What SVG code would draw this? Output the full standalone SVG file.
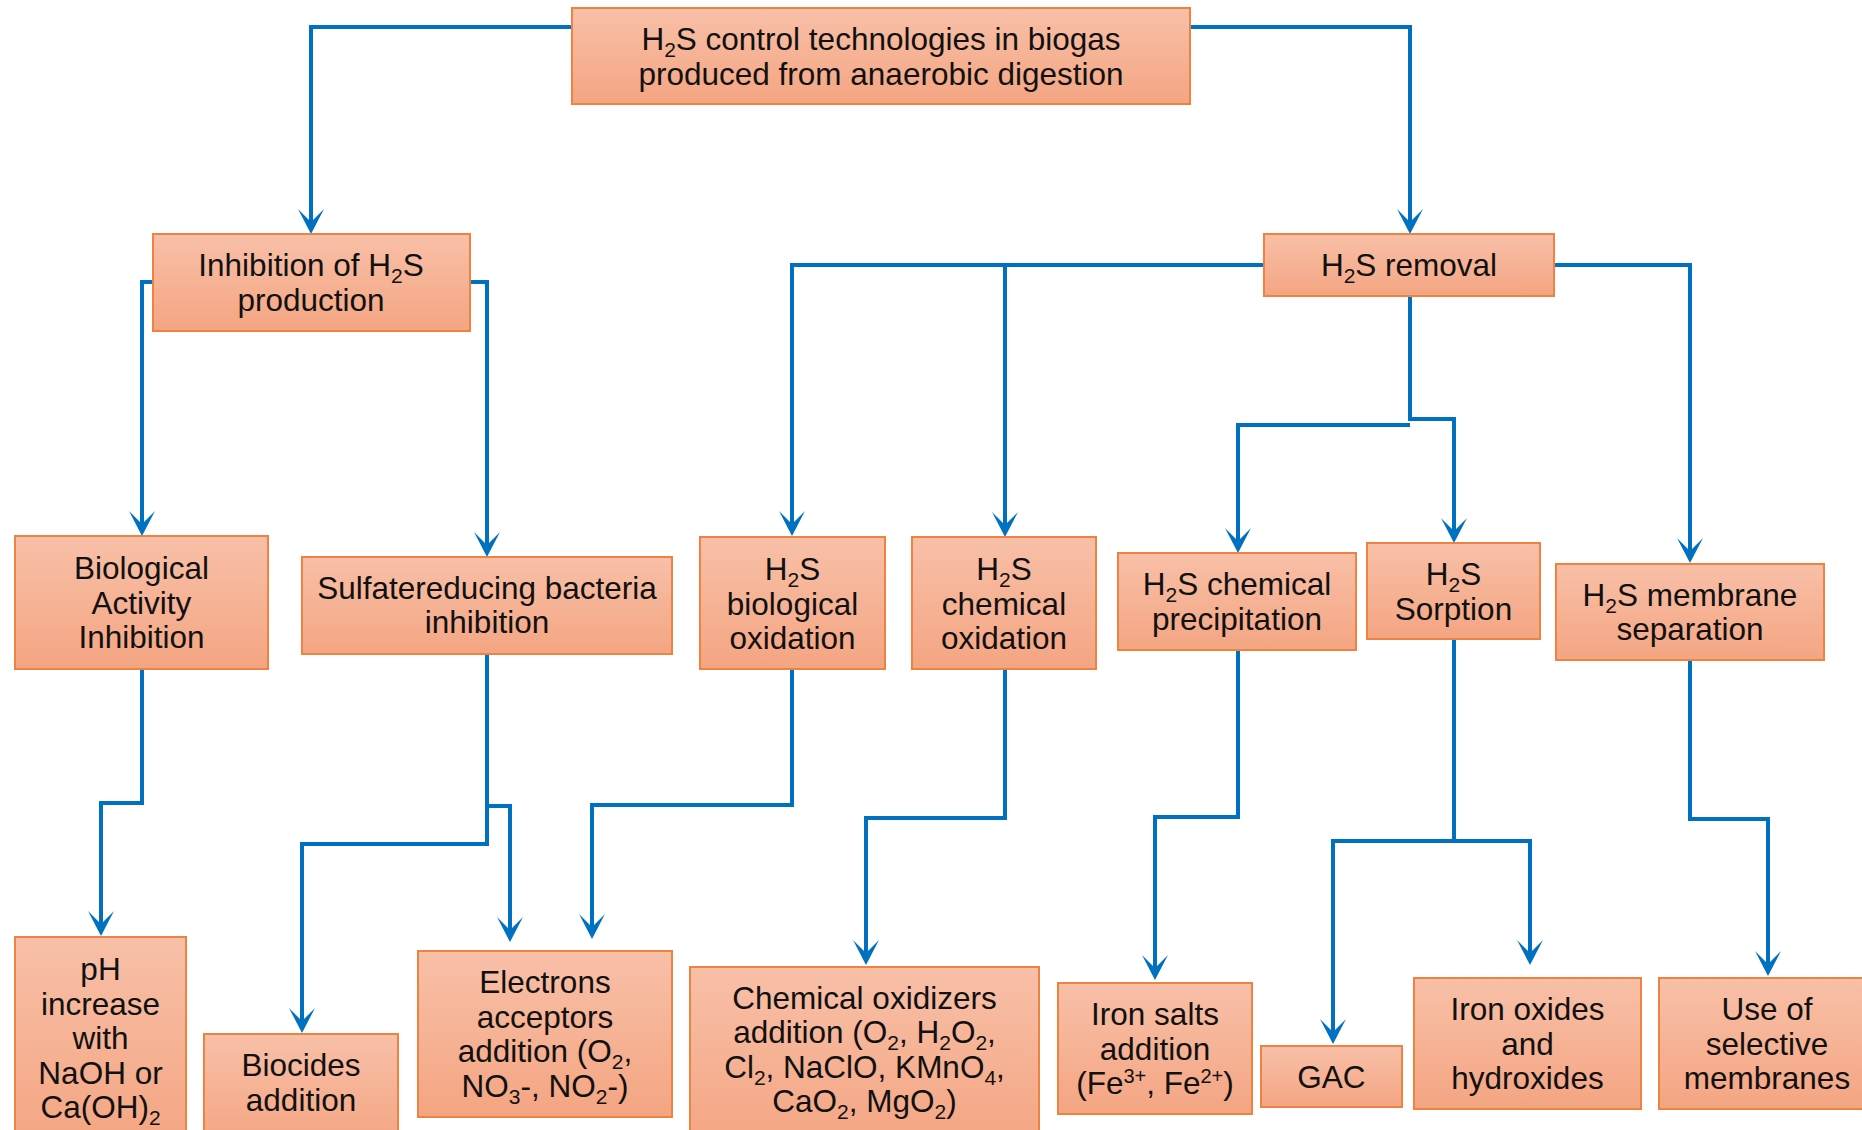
<svg xmlns="http://www.w3.org/2000/svg" width="1862" height="1130" viewBox="0 0 1862 1130">
<style>
.box{fill:url(#g);stroke:#EE8240;stroke-width:2}
.t{font-family:"Liberation Sans",Arial,sans-serif;font-size:31.5px;fill:#111;text-anchor:middle}
.c{fill:none;stroke:#0070C0;stroke-width:4;marker-end:url(#arr)}
</style>
<defs>
<linearGradient id="g" x1="0" y1="0" x2="0" y2="1">
<stop offset="0" stop-color="#F8C0A8"/>
<stop offset="1" stop-color="#F4A582"/>
</linearGradient>
<marker id="arr" markerUnits="userSpaceOnUse" viewBox="-16 -14 28 28" markerWidth="28" markerHeight="28" refX="0" refY="0" orient="auto">
<path d="M10,0 L-15,-13 L-2,0 L-15,13 Z" fill="#0070C0"/>
</marker>
</defs>
<g id="connectors">
<path class="c" d="M572,27 H311 V224"/>
<path class="c" d="M1190,27 H1410 V224"/>
<path class="c" d="M153,282 H142 V526"/>
<path class="c" d="M470,282 H487 V547"/>
<path class="c" d="M1264,265 H792 V526"/>
<path class="c" d="M1005,265 V527"/>
<path class="c" d="M1554,265 H1690 V553"/>
<path class="c" d="M1410,296 V419 H1454 V533"/>
<path class="c" d="M1410,425 H1238 V543"/>
<path class="c" d="M142,669 V803 H101 V926"/>
<path class="c" d="M487,654 V844 H302 V1023"/>
<path class="c" d="M487,806 H510 V932"/>
<path class="c" d="M792,669 V805 H592 V929"/>
<path class="c" d="M1005,669 V818 H866 V955"/>
<path class="c" d="M1238,650 V817 H1155 V970"/>
<path class="c" d="M1454,639 V841 H1333 V1034"/>
<path class="c" d="M1454,841 H1530 V955"/>
<path class="c" d="M1690,660 V819 H1768 V966"/>
</g>
<g id="root">
<rect class="box" x="572" y="8" width="618" height="96"/>
<text class="t" x="881" y="50">H<tspan dy="7" font-size="21">2</tspan><tspan dy="-7">S control technologies in biogas</tspan></text>
<text class="t" x="881" y="85">produced from anaerobic digestion</text>
</g>
<g id="inhibition">
<rect class="box" x="153" y="234" width="317" height="97"/>
<text class="t" x="311" y="276">Inhibition of H<tspan dy="7" font-size="21">2</tspan><tspan dy="-7">S</tspan></text>
<text class="t" x="311" y="311">production</text>
</g>
<g id="removal">
<rect class="box" x="1264" y="234" width="290" height="62"/>
<text class="t" x="1409" y="276">H<tspan dy="7" font-size="21">2</tspan><tspan dy="-7">S removal</tspan></text>
</g>
<g id="biological">
<rect class="box" x="15" y="536" width="253" height="133"/>
<text class="t" x="141.5" y="579">Biological</text>
<text class="t" x="141.5" y="613.5">Activity</text>
<text class="t" x="141.5" y="648">Inhibition</text>
</g>
<g id="sulfate">
<rect class="box" x="302" y="557" width="370" height="97"/>
<text class="t" x="487" y="599">Sulfatereducing bacteria</text>
<text class="t" x="487" y="633">inhibition</text>
</g>
<g id="bioox">
<rect class="box" x="700" y="537" width="185" height="132"/>
<text class="t" x="792.5" y="580">H<tspan dy="7" font-size="21">2</tspan><tspan dy="-7">S</tspan></text>
<text class="t" x="792.5" y="614.5">biological</text>
<text class="t" x="792.5" y="649">oxidation</text>
</g>
<g id="chemox">
<rect class="box" x="912" y="537" width="184" height="132"/>
<text class="t" x="1004" y="580">H<tspan dy="7" font-size="21">2</tspan><tspan dy="-7">S</tspan></text>
<text class="t" x="1004" y="614.5">chemical</text>
<text class="t" x="1004" y="649">oxidation</text>
</g>
<g id="precip">
<rect class="box" x="1118" y="553" width="238" height="97"/>
<text class="t" x="1237" y="595">H<tspan dy="7" font-size="21">2</tspan><tspan dy="-7">S chemical</tspan></text>
<text class="t" x="1237" y="630">precipitation</text>
</g>
<g id="sorption">
<rect class="box" x="1367" y="543" width="173" height="96"/>
<text class="t" x="1453.5" y="585">H<tspan dy="7" font-size="21">2</tspan><tspan dy="-7">S</tspan></text>
<text class="t" x="1453.5" y="619.5">Sorption</text>
</g>
<g id="membrane">
<rect class="box" x="1556" y="564" width="268" height="96"/>
<text class="t" x="1690" y="606">H<tspan dy="7" font-size="21">2</tspan><tspan dy="-7">S membrane</tspan></text>
<text class="t" x="1690" y="640">separation</text>
</g>
<g id="ph">
<rect class="box" x="15" y="937" width="171" height="210"/>
<text class="t" x="100.5" y="980">pH</text>
<text class="t" x="100.5" y="1014.5">increase</text>
<text class="t" x="100.5" y="1049">with</text>
<text class="t" x="100.5" y="1083.5">NaOH or</text>
<text class="t" x="100.5" y="1118">Ca(OH)<tspan dy="7" font-size="21">2</tspan></text>
</g>
<g id="biocides">
<rect class="box" x="204" y="1034" width="194" height="110"/>
<text class="t" x="301" y="1076">Biocides</text>
<text class="t" x="301" y="1111">addition</text>
</g>
<g id="electrons">
<rect class="box" x="418" y="951" width="254" height="166"/>
<text class="t" x="545" y="993">Electrons</text>
<text class="t" x="545" y="1027.5">acceptors</text>
<text class="t" x="545" y="1062">addition (O<tspan dy="7" font-size="21">2</tspan><tspan dy="-7">,</tspan></text>
<text class="t" x="545" y="1096.5">NO<tspan dy="7" font-size="21">3</tspan><tspan dy="-7">-, NO</tspan><tspan dy="7" font-size="21">2</tspan><tspan dy="-7">-)</tspan></text>
</g>
<g id="oxidizers">
<rect class="box" x="690" y="967" width="349" height="180"/>
<text class="t" x="864.5" y="1008.5">Chemical oxidizers</text>
<text class="t" x="864.5" y="1043">addition (O<tspan dy="7" font-size="21">2</tspan><tspan dy="-7">, H</tspan><tspan dy="7" font-size="21">2</tspan><tspan dy="-7">O</tspan><tspan dy="7" font-size="21">2</tspan><tspan dy="-7">,</tspan></text>
<text class="t" x="864.5" y="1077.5">Cl<tspan dy="7" font-size="21">2</tspan><tspan dy="-7">, NaClO, KMnO</tspan><tspan dy="7" font-size="21">4</tspan><tspan dy="-7">,</tspan></text>
<text class="t" x="864.5" y="1112">CaO<tspan dy="7" font-size="21">2</tspan><tspan dy="-7">, MgO</tspan><tspan dy="7" font-size="21">2</tspan><tspan dy="-7">)</tspan></text>
</g>
<g id="ironsalts">
<rect class="box" x="1058" y="983" width="194" height="131"/>
<text class="t" x="1155" y="1025">Iron salts</text>
<text class="t" x="1155" y="1059.5">addition</text>
<text class="t" x="1155" y="1094">(Fe<tspan dy="-11" font-size="20">3+</tspan><tspan dy="11">, Fe</tspan><tspan dy="-11" font-size="20">2+</tspan><tspan dy="11">)</tspan></text>
</g>
<g id="gac">
<rect class="box" x="1261" y="1046" width="141" height="61"/>
<text class="t" x="1331.5" y="1087.5">GAC</text>
</g>
<g id="ironoxides">
<rect class="box" x="1414" y="978" width="227" height="131"/>
<text class="t" x="1527.5" y="1020">Iron oxides</text>
<text class="t" x="1527.5" y="1054.5">and</text>
<text class="t" x="1527.5" y="1089">hydroxides</text>
</g>
<g id="selective">
<rect class="box" x="1659" y="978" width="210" height="131"/>
<text class="t" x="1767" y="1020">Use of</text>
<text class="t" x="1767" y="1054.5">selective</text>
<text class="t" x="1767" y="1089">membranes</text>
</g>
</svg>
